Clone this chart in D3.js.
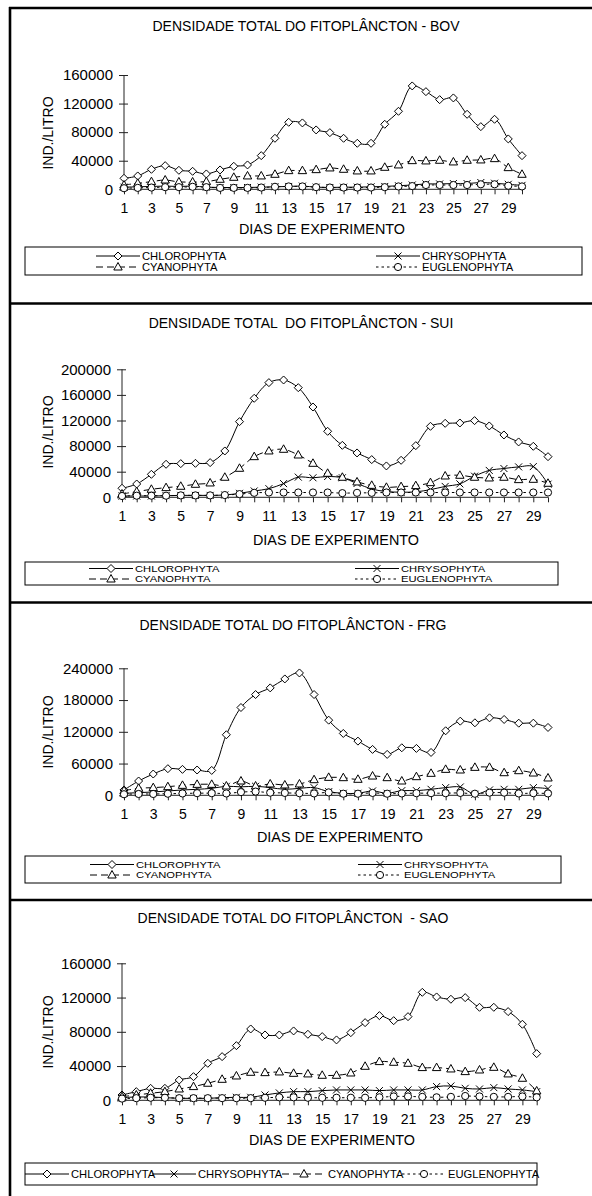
<!DOCTYPE html>
<html>
<head>
<meta charset="utf-8">
<script src="https://cdn.jsdelivr.net/npm/d3@7"></script>
<style>
body { margin: 0; background: #fff; }
svg { display: block; font-family: "Liberation Sans", Arial, sans-serif; }
text { white-space: pre; }
</style>
</head>
<body>
<svg></svg>
<script>
const width = 592;
const height = 1196;

const days = d3.range(1, 31);
const xTickLabels = days.filter(d => d % 2 === 1);
const seriesNames = ["CHLOROPHYTA", "CHRYSOPHYTA", "CYANOPHYTA", "EUGLENOPHYTA"];

// BOV
const bovTicks = [0, 40000, 80000, 120000, 160000];
const bovChloro = [15400, 18700, 28000, 33100, 26600, 25200, 21500, 27100, 32200, 34100, 47100, 71400, 93800, 92900, 83100, 79300, 71400, 64400, 64400, 91000, 109200, 144700, 136700, 125500, 127900, 105000, 87700, 98000, 70500, 47100];
const bovChryso = [3000, 3500, 4000, 4500, 4000, 4500, 3000, 2500, 2500, 2500, 3000, 3500, 4000, 4500, 3000, 2500, 3000, 3000, 3500, 4000, 5000, 6000, 7500, 7500, 8000, 8000, 9500, 8500, 7000, 5500];
const bovCyano = [6000, 8400, 10700, 13000, 10300, 10300, 10700, 14000, 16800, 18700, 18700, 21000, 26100, 26100, 27500, 29900, 28000, 25700, 25700, 30800, 34100, 40100, 39700, 40600, 38300, 40600, 41100, 42900, 30300, 21000];
const bovEugleno = [1500, 2000, 2500, 3000, 3000, 3500, 3000, 2000, 2000, 2000, 2500, 3500, 4000, 4000, 3000, 2500, 2500, 2500, 2500, 3000, 4000, 4500, 6000, 6000, 6000, 6000, 7000, 7000, 5000, 4000];

// SUI
const suiTicks = [0, 40000, 80000, 120000, 160000, 200000];
const suiChloro = [14100, 20800, 35900, 51600, 52600, 53100, 54200, 72400, 118200, 154700, 179200, 183300, 171300, 141100, 103100, 81200, 69300, 58900, 49000, 57800, 80700, 110900, 115600, 116100, 119800, 111500, 97400, 86500, 79700, 63500];
const suiChryso = [2000, 2000, 2000, 2500, 3000, 3000, 3000, 3600, 6200, 9900, 13500, 21400, 31500, 30500, 32500, 30500, 21600, 13000, 9000, 8000, 8500, 12000, 17000, 21000, 33000, 42000, 45000, 47500, 48000, 20500];
const suiCyano = [5200, 8900, 12500, 15100, 17200, 20300, 22400, 31300, 45300, 63500, 72400, 75000, 66100, 53100, 37500, 31300, 24000, 18700, 15600, 16700, 18200, 22900, 33300, 34400, 31300, 30200, 31300, 27600, 28100, 21900];
const suiEugleno = [2000, 2500, 2500, 2500, 3000, 3000, 3000, 3500, 5000, 7000, 7500, 7500, 7500, 7500, 7500, 6500, 7000, 7000, 7500, 7500, 7500, 7500, 7500, 7500, 7500, 7500, 7500, 7500, 7500, 7500];

// FRG
const frgTicks = [0, 60000, 120000, 180000, 240000];
const frgChloro = [10100, 27000, 40200, 50300, 49000, 47800, 47000, 114400, 165900, 190400, 203000, 219900, 231200, 190400, 142000, 116900, 102400, 86700, 77300, 89800, 88600, 81000, 121900, 140100, 137000, 146400, 143300, 136300, 136300, 128200];
const frgChryso = [3800, 5000, 6300, 8200, 10100, 11300, 13200, 17000, 16000, 17000, 14500, 11300, 13200, 14500, 6900, 3800, 3800, 8200, 3800, 8800, 8800, 11300, 14500, 15700, 1900, 10100, 11300, 11300, 14500, 12600];
const frgCyano = [8800, 13200, 14500, 16300, 18800, 20700, 20700, 17600, 27000, 17600, 21400, 19500, 21400, 29500, 33900, 33300, 30200, 36400, 33300, 27000, 35200, 41500, 49000, 47800, 52800, 52800, 42700, 46500, 42100, 32700];
const frgEugleno = [2000, 2500, 2500, 3000, 3500, 4000, 4000, 3500, 6000, 7000, 5000, 4500, 4000, 3500, 5500, 3000, 3000, 4500, 3000, 3500, 4000, 4000, 4000, 4500, 3000, 5000, 5000, 3500, 4000, 3500];

// SAO
const saoTicks = [0, 40000, 80000, 120000, 160000];
const saoChloro = [6200, 10100, 14000, 14000, 23700, 27600, 43200, 51000, 63800, 83300, 76300, 76300, 81000, 77100, 74400, 70500, 79000, 90700, 98900, 93000, 97700, 126100, 120700, 118000, 119900, 108600, 108600, 103600, 88800, 54500];
const saoChryso = [3100, 3900, 3900, 3100, 2300, 2300, 2300, 3100, 3500, 3500, 6200, 8600, 10100, 10100, 11300, 12100, 12100, 12100, 11300, 12100, 12100, 12100, 16000, 16700, 14000, 13200, 14800, 13200, 12100, 10100];
const saoCyano = [4300, 6200, 8200, 10100, 13200, 16000, 19900, 24500, 28400, 32700, 32300, 33100, 31500, 30800, 29200, 29200, 31900, 39700, 45200, 44400, 43200, 38200, 38200, 36600, 33500, 35400, 38500, 30800, 25700, 10900];
const saoEugleno = [2000, 2500, 3000, 3000, 2500, 2500, 2500, 2500, 2500, 2500, 3000, 3500, 3500, 3000, 3000, 3000, 3000, 3000, 3500, 4500, 4500, 4000, 3500, 4000, 5000, 4500, 4000, 4000, 4500, 3500];

const panels = [
    { title: "DENSIDADE TOTAL DO FITOPLÂNCTON - BOV", ticks: bovTicks, values: [bovChloro, bovChryso, bovCyano, bovEugleno],
      x0: 124, x1: 522, y0: 189.3, y1: 75, titleX: 306, titleY: 26, axisTitleX: 322, axisTitleY: 229, yTitleY: 133,
      legend: { x0: 25, x1: 582, y0: 247, y1: 275, rows: [256, 267], cols: [118, 398], squash: 0.92 } },
    { title: "DENSIDADE TOTAL  DO FITOPLÂNCTON - SUI", ticks: suiTicks, values: [suiChloro, suiChryso, suiCyano, suiEugleno],
      x0: 122, x1: 548, y0: 497.3, y1: 369.3, titleX: 301, titleY: 323, axisTitleX: 336, axisTitleY: 540, yTitleY: 432,
      legend: { x0: 25, x1: 558, y0: 562, y1: 585, rows: [568.5, 579], cols: [111, 377], squash: 0.82 } },
    { title: "DENSIDADE TOTAL DO FITOPLÂNCTON - FRG", ticks: frgTicks, values: [frgChloro, frgChryso, frgCyano, frgEugleno],
      x0: 124, x1: 548, y0: 795.3, y1: 668.3, titleX: 293, titleY: 625, axisTitleX: 340, axisTitleY: 837, yTitleY: 732,
      legend: { x0: 25, x1: 561, y0: 856, y1: 883, rows: [864.5, 875], cols: [112, 380], squash: 0.82 } },
    { title: "DENSIDADE TOTAL DO FITOPLÂNCTON  - SAO", ticks: saoTicks, values: [saoChloro, saoChryso, saoCyano, saoEugleno],
      x0: 122, x1: 536.7, y0: 1100.3, y1: 963.3, titleX: 293, titleY: 918, axisTitleX: 332, axisTitleY: 1140, yTitleY: 1032,
      legend: { x0: 25, x1: 537, y0: 1163, y1: 1185, single: 1174, centers: [47, 174, 304, 424], squash: 1 } }
];

const styles = [
    { dash: null, marker: "M0,-4L4,0L0,4L-4,0Z" },
    { dash: null, marker: "M-3.5,-3.5L3.5,3.5M-3.5,3.5L3.5,-3.5" },
    { dash: "7,4", marker: "M0,-4.5L4.2,3L-4.2,3Z" },
    { dash: "2.5,3", marker: "circle" }
];

const svg = d3.select("svg")
    .attr("width", width)
    .attr("height", height);

svg.append("rect").attr("width", width).attr("height", height).attr("fill", "#fff");

function drawMarker(g, i, x, y) {
    if (styles[i].marker === "circle") {
        g.append("circle").attr("cx", x).attr("cy", y).attr("r", 3.6)
            .attr("fill", "#fff").attr("stroke", "#000").attr("stroke-width", 1);
    } else {
        g.append("path").attr("d", styles[i].marker)
            .attr("transform", `translate(${x},${y})`)
            .attr("fill", i === 1 ? "none" : "#fff")
            .attr("stroke", "#000").attr("stroke-width", 1);
    }
}

panels.forEach(p => {
    const g = svg.append("g");
    const x = d3.scaleLinear().domain([1, 30]).range([p.x0, p.x1]);
    const y = d3.scaleLinear().domain([0, d3.max(p.ticks)]).range([p.y0, p.y1]);

    g.append("text")
        .attr("x", p.titleX).attr("y", p.titleY)
        .attr("text-anchor", "middle").attr("dominant-baseline", "central")
        .attr("font-size", 14)
        .text(p.title);

    // y axis
    const ya = g.append("g").attr("transform", `translate(${p.x0},0)`)
        .call(d3.axisLeft(y).tickValues(p.ticks).tickSize(5).tickPadding(6).tickFormat(d3.format("d")));
    ya.select(".domain").attr("d", `M0,${p.y1}V${p.y0}`).attr("stroke", "#222");
    ya.selectAll(".tick line").attr("x2", -5).attr("x1", 4).attr("stroke", "#222");
    ya.selectAll(".tick text").attr("font-size", 15).attr("fill", "#000")
        .attr("font-family", "Liberation Sans, Arial, sans-serif");

    // x axis
    const xa = g.append("g").attr("transform", `translate(0,${p.y0})`)
        .call(d3.axisBottom(x).tickValues(days).tickSize(5).tickPadding(9)
            .tickFormat(d => xTickLabels.includes(d) ? d : ""));
    xa.select(".domain").attr("d", `M${p.x0},0H${p.x1}`).attr("stroke", "#222");
    xa.selectAll(".tick line").attr("stroke", "#222");
    xa.selectAll(".tick text").attr("font-size", 14).attr("fill", "#000")
        .attr("font-family", "Liberation Sans, Arial, sans-serif");

    g.append("text")
        .attr("x", p.axisTitleX).attr("y", p.axisTitleY)
        .attr("text-anchor", "middle").attr("dominant-baseline", "central")
        .attr("font-size", 14.4)
        .text("DIAS DE EXPERIMENTO");

    g.append("text")
        .attr("transform", `translate(48,${p.yTitleY}) rotate(-90)`)
        .attr("text-anchor", "middle").attr("dominant-baseline", "central")
        .attr("font-size", 14)
        .text("IND./LITRO");

    const line = d3.line()
        .x((d, i) => x(days[i]))
        .y(d => y(d))
        .curve(d3.curveCatmullRom);

    p.values.forEach((vals, i) => {
        const sg = g.append("g");
        sg.append("path")
            .attr("d", line(vals))
            .attr("fill", "none")
            .attr("stroke", "#000")
            .attr("stroke-width", 1)
            .attr("stroke-dasharray", styles[i].dash);
        vals.forEach((v, k) => drawMarker(sg, i, x(days[k]), y(v)));
    });

    // legend
    const L = p.legend;
    const lg = g.append("g");
    lg.append("rect")
        .attr("x", L.x0).attr("y", L.y0)
        .attr("width", L.x1 - L.x0).attr("height", L.y1 - L.y0)
        .attr("fill", "#fff").attr("stroke", "#000").attr("stroke-width", 1);

    const items = L.single !== undefined
        ? seriesNames.map((n, i) => ({ i, cx: L.centers[i], cy: L.single }))
        : [
            { i: 0, cx: L.cols[0], cy: L.rows[0] },
            { i: 2, cx: L.cols[0], cy: L.rows[1] },
            { i: 1, cx: L.cols[1], cy: L.rows[0] },
            { i: 3, cx: L.cols[1], cy: L.rows[1] }
        ];
    items.forEach(it => {
        lg.append("line")
            .attr("x1", it.cx - 22).attr("x2", it.cx + 22)
            .attr("y1", it.cy).attr("y2", it.cy)
            .attr("stroke", "#000").attr("stroke-width", 1)
            .attr("stroke-dasharray", styles[it.i].dash);
        drawMarker(lg, it.i, it.cx, it.cy);
        lg.append("text")
            .attr("transform", `translate(${it.cx + 24},${it.cy}) scale(1,${L.squash})`)
            .attr("dominant-baseline", "central")
            .attr("font-size", 11.2)
            .text(seriesNames[it.i]);
    });
});

// frame
const frame = svg.append("g").attr("stroke", "#000").attr("stroke-width", 2.6);
frame.append("line").attr("x1", 10).attr("x2", 10).attr("y1", 7).attr("y2", height);
[8, 303.5, 602.5, 900].forEach(yy => {
    frame.append("line").attr("x1", 9).attr("x2", width).attr("y1", yy).attr("y2", yy);
});
</script>
</body>
</html>
